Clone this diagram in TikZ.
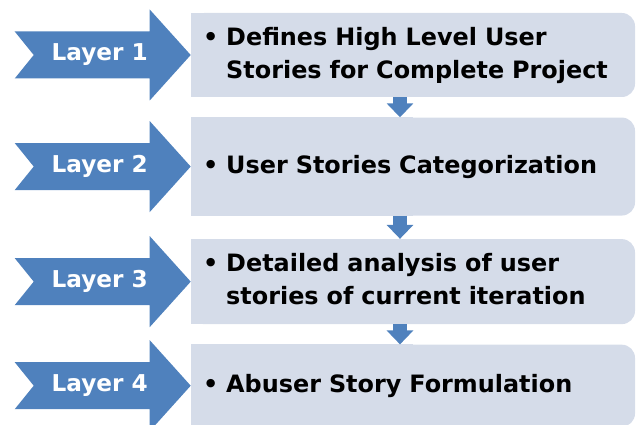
\documentclass[tikz,border=0pt]{standalone}
\usepackage{fontspec}
\setmainfont{DejaVu Sans}
\usepackage{tikz}
\usetikzlibrary{positioning}
\usetikzlibrary{arrows.meta}
\usetikzlibrary{backgrounds}
\definecolor{layerblue}{RGB}{79,129,189}
\definecolor{storyfill}{RGB}{213,220,233}
\newcommand{\storyitem}[1]{\textbullet\ \begin{tabular}[t]{@{}l@{}}#1\end{tabular}}

\begin{document}
\begin{tikzpicture}[
    story/.style={fill=storyfill, rounded corners=0.33cm, text width=10.5cm,
        inner xsep=0.3cm, inner ysep=0pt, align=left,
        font=\fontsize{17}{23.4}\selectfont\bfseries},
    layer/.style={text=white, font=\fontsize{16.5}{20}\selectfont\bfseries},
    flow/.style={draw=layerblue, line width=0.35cm,
        -{Triangle[width=0.65cm,length=0.35cm]}}]
    \useasboundingbox (0,0) rectangle (15.9,-10.625);

    \node[story, minimum height=2.1cm] (s1) at (10.325,-1.375)
        {\storyitem{Defines High Level User\\Stories for Complete Project}};
    \node[story, minimum height=2.45cm, below=0.5cm of s1] (s2)
        {\storyitem{User Stories Categorization}};
    \node[story, minimum height=2.125cm, below=0.575cm of s2] (s3)
        {\storyitem{Detailed analysis of user\\stories of current iteration}};
    \node[story, minimum height=2.05cm, below=0.5cm of s3] (s4)
        {\storyitem{Abuser Story Formulation}};

    % square off the left side of the boxes
    \begin{scope}[on background layer]
        \foreach \s in {s1,s2,s3,s4}
            \fill[storyfill] (\s.north west) rectangle (\s.south);
    \end{scope}

    \foreach \n in {1,...,4} {
        \fill[layerblue] (s\n.west) -- ++(-1.025,1.1375) -- ++(0,-0.55)
            -- ++(-3.375,0) -- ++(0.475,-0.5875) -- ++(-0.475,-0.5875)
            -- ++(3.375,0) -- ++(0,-0.55) -- cycle;
        \node[layer] (layer\n) at ([xshift=-2.275cm]s\n.west) {Layer \n};
    }

    \draw[flow] ([xshift=-0.325cm]s1.south) -- ([xshift=-0.325cm]s2.north);
    \draw[flow] ([xshift=-0.325cm]s2.south) -- ([xshift=-0.325cm]s3.north);
    \draw[flow] ([xshift=-0.325cm]s3.south) -- ([xshift=-0.325cm]s4.north);
\end{tikzpicture}
\end{document}
